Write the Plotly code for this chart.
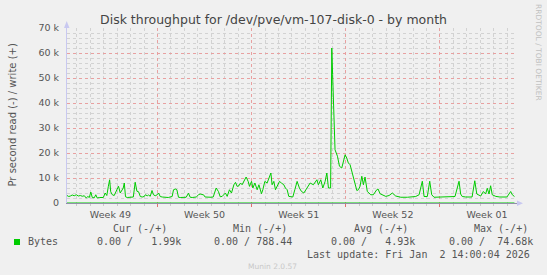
import pandas as pd
import plotly.graph_objects as go

# ---- data (day offsets from series start, write bytes/s in thousands) ----
series_start = "2025-12-01 06:30"
range_days = 33.46
day_offsets = [
    0.00, 0.13, 0.25, 0.39, 0.54, 0.69, 0.84, 0.99, 1.14, 1.29, 1.43, 1.55, 1.66, 1.77, 1.88,
    2.03, 2.14, 2.25, 2.40, 2.55, 2.70, 2.84, 2.96, 3.07, 3.17, 3.25, 3.37, 3.51, 3.70, 3.83,
    3.96, 4.09, 4.18, 4.26, 4.35, 4.48, 4.63, 4.78, 4.93, 5.07, 5.20, 5.32, 5.45, 5.59, 5.74,
    5.82, 5.97, 6.06, 6.19, 6.32, 6.43, 6.56, 6.71, 6.81, 6.93, 7.08, 7.23, 7.38, 7.53, 7.67,
    7.82, 7.92, 8.05, 8.17, 8.29, 8.42, 8.57, 8.72, 8.86, 9.03, 9.16, 9.31, 9.46, 9.61, 9.78,
    9.90, 10.03, 10.15, 10.27, 10.42, 10.57, 10.72, 10.87, 11.09, 11.26, 11.39,
    11.54, 11.66, 11.78, 11.91, 12.08, 12.23, 12.41, 12.53, 12.65, 12.78, 12.90, 13.02, 13.15,
    13.32, 13.47, 13.57, 13.72, 13.82, 13.97, 14.14, 14.27, 14.46, 14.56, 14.71, 14.88, 15.01,
    15.16, 15.25, 15.38, 15.50, 15.63, 15.80, 15.94, 16.12, 16.24, 16.37, 16.49, 16.61, 16.79,
    16.94, 17.11, 17.28, 17.43, 17.61,
    17.83, 18.08, 18.32, 18.58, 18.69, 18.87, 19.02, 19.19, 19.32, 19.44, 19.60, 19.69, 19.75,
    19.84, 19.93, 20.11, 20.26, 20.43, 20.55, 20.68, 20.80, 20.92, 21.05, 21.17, 21.29, 21.42,
    21.55, 21.67, 21.79, 21.92, 22.04, 22.16, 22.24, 22.33, 22.59, 22.78, 23.03, 23.13, 23.28,
    23.43, 23.70, 23.95, 24.19, 24.44, 24.82, 25.31, 25.75, 25.93, 26.18, 26.42, 26.55, 26.79,
    26.97, 27.12, 27.29, 28.03, 28.48, 28.85, 29.15, 29.27, 29.39, 29.65, 30.12, 30.32, 30.47,
    30.76, 30.96, 31.13, 31.25, 31.38, 31.50, 31.62, 31.88, 32.19, 32.71, 32.99, 33.11, 33.27,
]
write_k = [
    3.0, 2.6, 2.8, 3.2, 2.9, 3.3, 2.8, 3.0, 2.7, 2.9, 2.0, 2.6, 2.2, 4.4, 2.2,
    2.1, 3.3, 2.0, 2.2, 2.3, 2.2, 4.0, 3.0, 6.5, 9.3, 4.5, 3.3, 3.0, 5.3, 6.7,
    4.0, 5.3, 6.0, 8.0, 2.5, 2.2, 2.3, 2.2, 2.4, 8.3, 4.7, 4.5, 2.6, 2.4, 2.6,
    3.3, 2.9, 3.2, 2.7, 5.0, 3.3, 2.9, 3.3, 4.0, 2.6, 2.4, 2.3, 2.2, 2.2, 2.4,
    2.6, 5.3, 5.6, 5.3, 2.3, 2.2, 2.3, 2.2, 2.3, 3.9, 2.3, 2.2, 2.3, 2.4, 3.3,
    3.6, 3.4, 3.3, 2.4, 2.3, 2.4, 2.3, 2.4, 6.0, 4.6, 2.5,
    2.65, 3.3, 4.0, 2.65, 5.3, 4.0, 7.3, 8.25, 6.65, 6.9, 8.0, 7.3, 8.65,
    10.4, 8.65, 6.65, 8.65, 6.0, 8.0, 5.3, 7.3, 3.7, 5.3, 8.65, 8.0, 9.6,
    12.0, 7.3, 8.65, 5.3, 6.65, 8.65, 8.0, 7.3, 6.0, 5.3, 2.65, 2.65, 2.4,
    5.3, 8.65, 6.0, 4.65, 4.0,
    6.0, 8.0, 7.3, 9.3, 7.3, 9.3, 6.0, 8.6, 12.0, 6.0, 6.0, 62.0, 51.3,
    38.0, 21.3, 18.7, 14.7, 14.0, 16.7, 19.3, 18.0, 16.0, 15.3, 12.7, 10.7, 6.7,
    5.0, 5.3, 6.7, 10.7, 7.3, 10.4, 8.0, 4.6, 3.3, 3.3, 5.3, 5.6, 3.7,
    3.3, 2.65, 3.0, 4.0, 2.8, 2.3, 2.3, 2.6, 2.6, 3.3, 8.7, 2.6, 2.6,
    8.7, 3.3, 2.3, 2.3, 2.5, 2.6, 8.7, 3.6, 2.6, 2.4, 2.4, 8.9, 3.6,
    2.8, 4.6, 3.6, 5.9, 3.6, 6.9, 3.3, 2.65, 2.4, 2.4, 4.6, 3.3, 2.6,
]
read_k = [0.0] * len(day_offsets)

y_ticks = [0, 10000, 20000, 30000, 40000, 50000, 60000, 70000]
y_ticktext = ["0", "10 k", "20 k", "30 k", "40 k", "50 k", "60 k", "70 k"]
week_mid = ["2025-12-04 12:00", "2025-12-11 12:00", "2025-12-18 12:00",
            "2025-12-25 12:00", "2026-01-01 12:00"]
week_labels = ["Week 49", "Week 50", "Week 51", "Week 52", "Week 01"]
week_starts = ["2025-12-08", "2025-12-15", "2025-12-22", "2025-12-29"]

legend_name = "Bytes"
cur_txt = "0.00 /   1.99k"
min_txt = "0.00 / 788.44"
avg_txt = "0.00 /   4.93k"
max_txt = "0.00 /  74.68k"
last_update = "Last update: Fri Jan  2 14:00:04 2026"

# ---- build ----
t0 = pd.Timestamp(series_start)
times = [t0 + pd.to_timedelta(d, unit="D") for d in day_offsets]
write_v = [v * 1000 for v in write_k]
read_v = [v * 1000 for v in read_k]
x_range = [t0, t0 + pd.to_timedelta(range_days, unit="D")]

W, H = 547, 275
L, R, T, B = 67, 30, 28, 72
PW, PH = W - L - R, H - T - B


def px(xp):
    return (xp - L) / PW


def py(yp):
    return (H - B - yp) / PH


GREEN = "#00CC00"
BG = "#F0F0F0"
MAJ = "#E8A0A0"
MIN = "#D2D2D2"
TXT = "#555555"

fig = go.Figure()
fig.add_trace(go.Scatter(x=times, y=read_v, mode="lines", xaxis="x2",
                         line=dict(color=GREEN, width=1), hoverinfo="skip",
                         showlegend=False))
fig.add_trace(go.Scatter(x=times, y=write_v, mode="lines",
                         line=dict(color=GREEN, width=1), name=legend_name,
                         showlegend=False))

fig.update_layout(
    width=W, height=H,
    margin=dict(l=L, r=R, t=T, b=B),
    paper_bgcolor=BG, plot_bgcolor=BG,
    font=dict(family="DejaVu Sans", size=10, color=TXT),
    title=dict(text="Disk throughput for /dev/pve/vm-107-disk-0 - by month",
               x=0.5, xref="container", xanchor="center", y=1 - 20 / H, yanchor="middle",
               font=dict(family="DejaVu Sans", size=12.5, color="#444444")),
    xaxis=dict(type="date", range=x_range, tickmode="array", tickvals=week_starts,
               ticktext=["" for _ in week_starts], showgrid=True, gridcolor=MAJ,
               griddash="dot", gridwidth=1, ticks="outside", ticklen=3,
               tickcolor="#E07070",
               showline=True, linecolor="#9090A8", linewidth=1, zeroline=False,
               minor=dict(dtick=86400000, showgrid=True, gridcolor=MIN, griddash="dot",
                          ticks="outside", ticklen=2, tickcolor="#C8C8C8"),
               fixedrange=True),
    xaxis2=dict(type="date", matches="x", overlaying="x", side="bottom", anchor="y",
                tickmode="array", tickvals=week_mid, ticktext=week_labels,
                showgrid=False, ticks="outside", ticklen=3, tickcolor="rgba(0,0,0,0)",
                showline=False, zeroline=False,
                tickfont=dict(family="DejaVu Sans", size=9.5, color=TXT)),
    yaxis=dict(range=[0, 70000], tickmode="array", tickvals=y_ticks, ticktext=y_ticktext,
               showgrid=True, gridcolor=MAJ, griddash="dot", gridwidth=1,
               zeroline=False, showline=True, linecolor="#C8C8F0", linewidth=1,
               ticks="outside", ticklen=5, tickcolor="rgba(0,0,0,0)",
               tickfont=dict(family="DejaVu Sans", size=9.5, color=TXT),
               minor=dict(dtick=2000, showgrid=True, gridcolor=MIN, griddash="dot"),
               fixedrange=True),
    showlegend=False,
)

ann = []
ann.append(dict(text="Pr second read (-) / write (+)", x=px(12), y=0.5, xref="paper",
                yref="paper", textangle=-90, showarrow=False, xanchor="center",
                yanchor="middle", font=dict(family="DejaVu Sans", size=10, color=TXT)))
ann.append(dict(text="RRDTOOL / TOBI OETIKER", x=px(539), y=py(52), xref="paper",
                yref="paper", textangle=90, showarrow=False, xanchor="center",
                yanchor="middle", font=dict(family="DejaVu Sans", size=7.5, color="#C0C0C0")))
mono = dict(family="DejaVu Sans Mono", size=10, color=TXT)
for txt, xl, yc in [("Cur (-/+)", 111, 228.5), ("Min (-/+)", 231, 228.5),
                    ("Avg (-/+)", 352, 228.5), ("Max (-/+)", 472, 228.5),
                    (legend_name, 26, 241.5), (cur_txt, 95, 241.5), (min_txt, 212, 241.5),
                    (avg_txt, 329, 241.5), (max_txt, 447, 241.5)]:
    ann.append(dict(text=txt.replace(" ", "&nbsp;"), x=px(xl), y=py(yc), xref="paper",
                    yref="paper", showarrow=False, xanchor="left", yanchor="middle",
                    font=mono))
ann.append(dict(text=last_update.replace(" ", "&nbsp;"), x=px(532), y=py(254), xref="paper",
                yref="paper", showarrow=False, xanchor="right", yanchor="middle", font=mono))
ann.append(dict(text="Munin 2.0.57", x=px(272), y=py(266), xref="paper", yref="paper",
                showarrow=False, xanchor="center", yanchor="middle",
                font=dict(family="DejaVu Sans", size=7.5, color="#C8C8C8")))
fig.update_layout(annotations=ann)

shapes = [
    dict(type="rect", xref="paper", yref="paper", x0=px(14), x1=px(20), y0=py(245),
         y1=py(239), fillcolor=GREEN, line=dict(width=0)),
    dict(type="path", xref="paper", yref="paper",
         path=f"M {px(64)} {py(28)} L {px(69.5)} {py(28)} L {px(66.7)} {py(21)} Z",
         fillcolor="#C8C8F0", line=dict(width=0)),
    dict(type="path", xref="paper", yref="paper",
         path=f"M {px(517)} {py(200.5)} L {px(517)} {py(206)} L {px(523)} {py(203.3)} Z",
         fillcolor="#C8C8F0", line=dict(width=0)),
]
fig.update_layout(shapes=shapes)

fig.write_html("out.html")
